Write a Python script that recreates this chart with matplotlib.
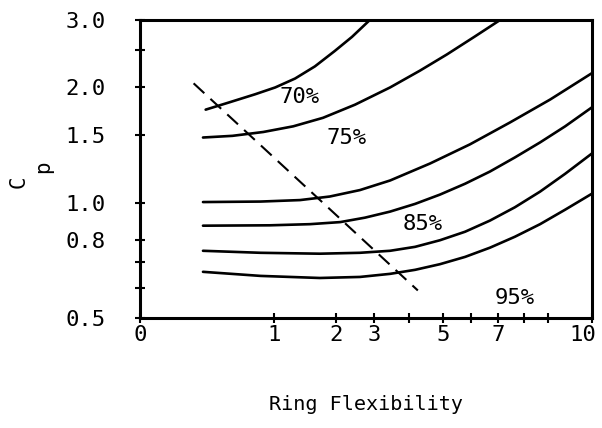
import numpy as np
import matplotlib
matplotlib.use("Agg")
import matplotlib.pyplot as plt
from matplotlib.ticker import FixedLocator, NullFormatter, FixedFormatter
from matplotlib.transforms import ScaledTranslation

plt.rcParams['font.family'] = ['DejaVu Sans Mono', 'DejaVu Sans']

# ---------------- data ----------------
c1_x = [0.49, 0.67, 0.86, 1.02, 1.34, 1.66, 1.98, 2.42, 2.89]
c1_y = [1.75, 1.83, 1.92, 2.00, 2.11, 2.27, 2.49, 2.71, 3.00]

c2_x = [0.47, 0.69, 0.92, 1.31, 1.79, 2.50, 3.46, 4.32, 5.14, 6.14, 7.08]
c2_y = [1.48, 1.495, 1.53, 1.583, 1.666, 1.803, 2.00, 2.212, 2.439, 2.716, 3.00]

c3_x = [0.47, 0.90, 1.42, 1.90, 2.63, 3.46, 4.62, 5.96, 7.46, 9.05, 10.0]
c3_y = [1.004, 1.007, 1.016, 1.038, 1.079, 1.143, 1.266, 1.42, 1.62, 1.86, 2.18]

c4_x = [0.47, 0.97, 1.58, 2.11, 2.76, 3.46, 4.18, 4.91, 5.79, 6.70, 7.65, 8.67, 9.39, 10.0]
c4_y = [0.871, 0.873, 0.879, 0.890, 0.914, 0.948, 0.993, 1.050, 1.121, 1.206,
        1.313, 1.437, 1.583, 1.775]

c5_x = [0.47, 0.90, 1.74, 2.63, 3.46, 4.18, 4.91, 5.79, 6.70, 7.65, 8.67, 9.39, 10.0]
c5_y = [0.749, 0.740, 0.736, 0.740, 0.749, 0.767, 0.798, 0.840, 0.898, 0.973,
        1.069, 1.190, 1.345]

c6_x = [0.47, 0.90, 1.74, 2.63, 3.46, 4.18, 4.91, 5.79, 6.70, 7.65, 8.67, 9.39, 10.0]
c6_y = [0.660, 0.644, 0.636, 0.640, 0.652, 0.668, 0.691, 0.722, 0.763, 0.815,
        0.879, 0.959, 1.056]

dash_x = [0.40, 4.26]
dash_y = [2.05, 0.59]

labels = ['70%', '75%', '85%', '95%']
label_x = [1.42, 2.29, 4.41, 7.65]
label_y = [1.886, 1.48, 0.882, 0.564]

xticks_major = [0, 1, 2, 3, 5, 7, 10]
xtick_labels = ['0', '1', '2', '3', '5', '7', '10']
xticks_minor = [4, 6, 8, 9]
yticks_major = [0.5, 0.8, 1.0, 1.5, 2.0, 3.0]
ytick_labels = ['0.5', '0.8', '1.0', '1.5', '2.0', '3.0']
yticks_minor = [0.6, 0.7, 2.5]

# ---------------- x scale as printed on the chart ----------------
kv = np.arange(11, dtype=float)
kp = np.array([0, 134, 196, 234, 269, 303, 331, 358, 384, 408, 452], dtype=float)

def fwd(v):
    v = np.asarray(v, dtype=float)
    out = np.interp(v, kv, kp)
    out = np.where(v < 0, v * (kp[1] - kp[0]), out)
    out = np.where(v > 10, kp[-1] + (v - 10) * (kp[-1] - kp[-2]), out)
    return out

def inv(p):
    p = np.asarray(p, dtype=float)
    out = np.interp(p, kp, kv)
    out = np.where(p < 0, p / (kp[1] - kp[0]), out)
    out = np.where(p > kp[-1], 10 + (p - kp[-1]) / (kp[-1] - kp[-2]), out)
    return out

W, H = 602, 428
fig = plt.figure(figsize=(W / 100, H / 100), dpi=100)
ax = fig.add_axes([140 / W, 1 - 318 / H, 452 / W, 298 / H])

ax.set_xscale('function', functions=(fwd, inv))
ax.set_yscale('log')
ax.set_xlim(0, 10)
ax.set_ylim(0.5, 3.0)

lw = 1.9
for xs, ys in [(c1_x, c1_y), (c2_x, c2_y), (c3_x, c3_y),
               (c4_x, c4_y), (c5_x, c5_y), (c6_x, c6_y)]:
    ax.plot(xs, ys, color='black', lw=lw, solid_capstyle='round',
            solid_joinstyle='round')

ax.plot(dash_x, dash_y, color='black', lw=1.5, linestyle=(0, (7, 4)))

for t, x, y in zip(labels, label_x, label_y):
    ax.text(x, y, t, fontsize=16, ha='center', va='center')

ax.xaxis.set_major_locator(FixedLocator(xticks_major))
ax.xaxis.set_minor_locator(FixedLocator(xticks_minor))
ax.xaxis.set_major_formatter(FixedFormatter(xtick_labels))
ax.xaxis.set_minor_formatter(NullFormatter())

ax.yaxis.set_major_locator(FixedLocator(yticks_major))
ax.yaxis.set_major_formatter(FixedFormatter(ytick_labels))
ax.yaxis.set_minor_locator(FixedLocator(yticks_minor))
ax.yaxis.set_minor_formatter(NullFormatter())

for s in ax.spines.values():
    s.set_linewidth(2.2)

ax.tick_params(axis='both', which='both', direction='inout', length=7, width=1.5,
               top=False, right=False)
ax.tick_params(axis='y', which='major', labelsize=16, pad=21.5)
ax.tick_params(axis='x', which='major', labelsize=16, pad=1.5)

# nudge the last x tick label ("10") left so it stays inside the picture
fig.canvas.draw()
last = ax.xaxis.get_major_ticks()[-1].label1
last.set_transform(last.get_transform() + ScaledTranslation(-9 / 100, 0, fig.dpi_scale_trans))

fig.text(366 / W, 1 - 405 / H, 'Ring Flexibility', fontsize=14.5,
         ha='center', va='center')
fig.text(19 / W, 1 - 182 / H, 'C', fontsize=15, rotation=90, ha='center', va='center')
fig.text(43 / W, 1 - 167 / H, 'p', fontsize=15, rotation=90, ha='center', va='center')

fig.savefig('out.png', dpi=100)
